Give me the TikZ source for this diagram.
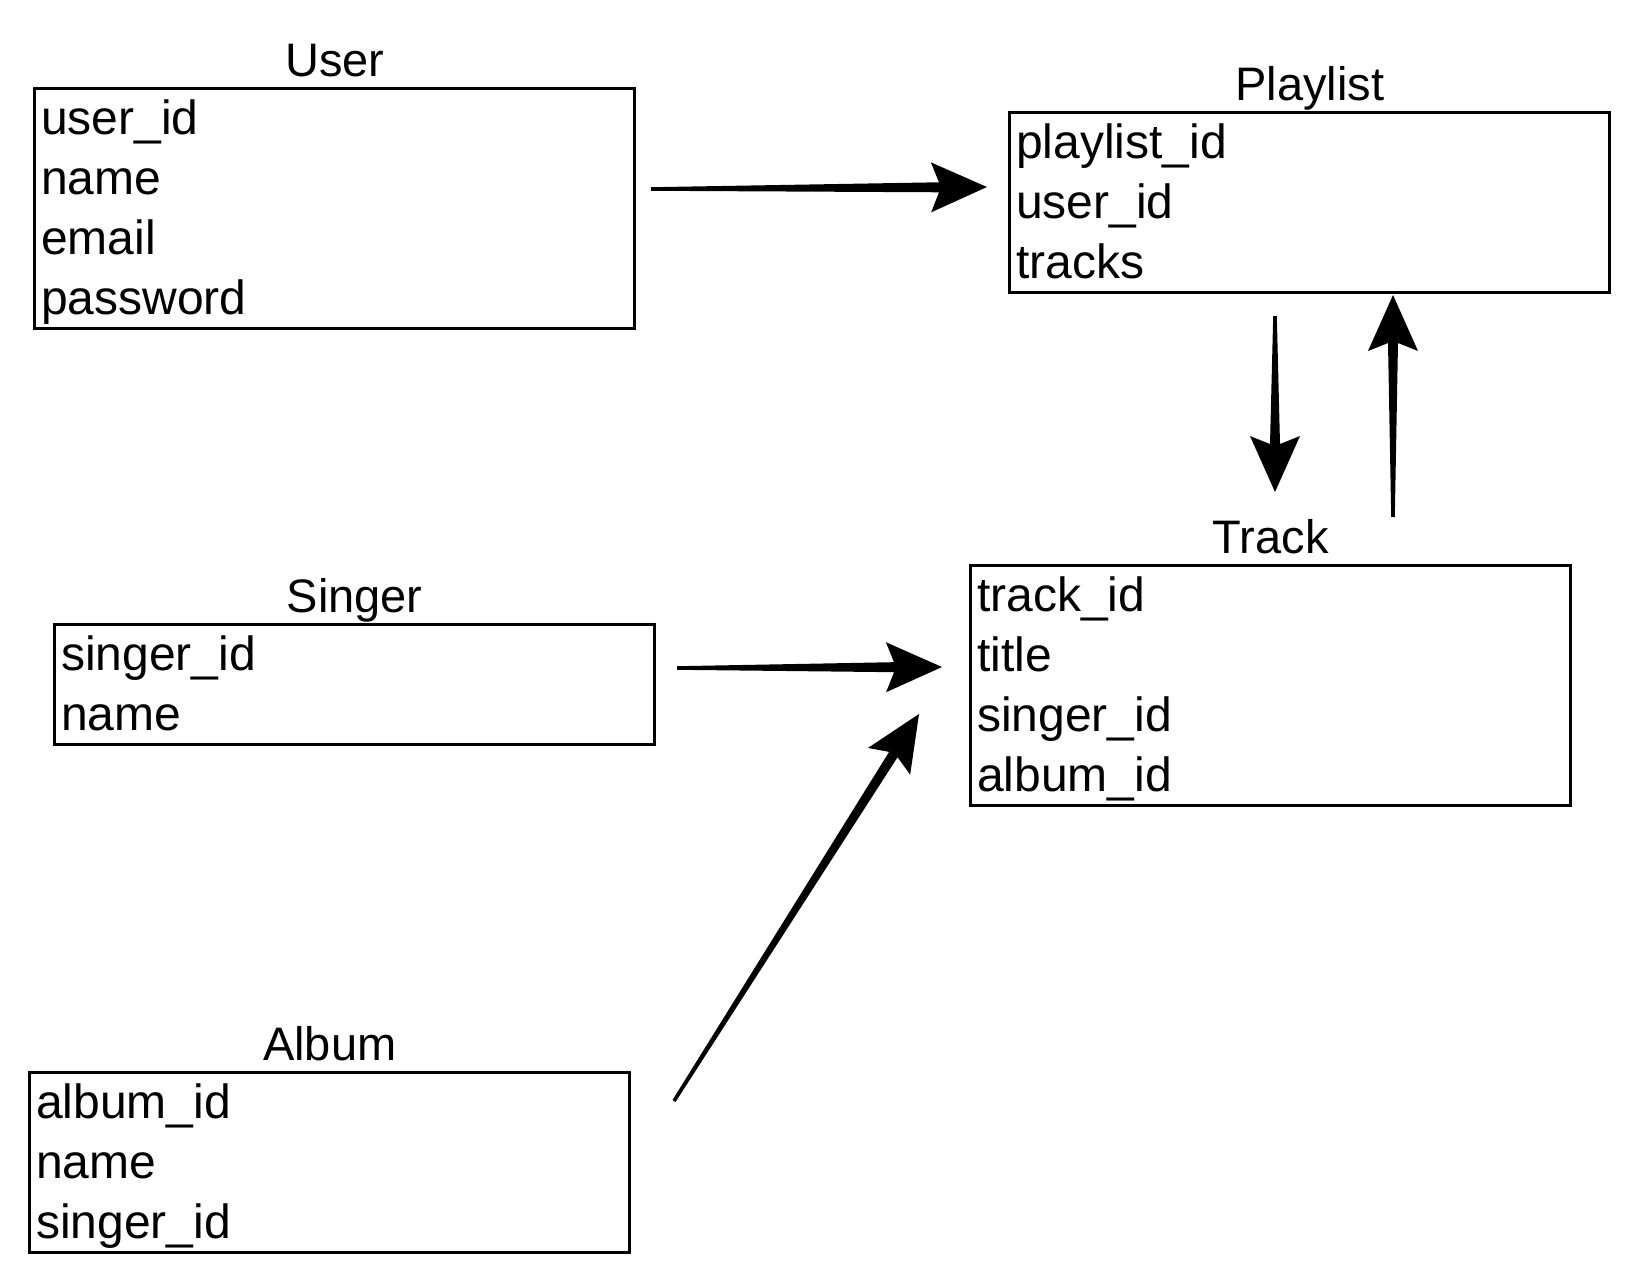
\documentclass[tikz,border=0pt]{standalone}
\usepackage{fontspec}
\setmainfont{Liberation Sans}
\usetikzlibrary{calc}
\tikzset{
  tbl/.style={draw, line width=3.4pt, minimum width=600pt, inner sep=0pt, anchor=north west},
  rowtxt/.style={anchor=base west, inner sep=0pt, font=\fontsize{48}{57}\selectfont},
  ttl/.style={anchor=base, inner sep=0pt, font=\fontsize{47}{56}\selectfont},
  taper/.style={fill=black},
}
\newcommand\ertable[6]{%
  \node[tbl, minimum height=#4*60pt] (#1) at (#2,#3) {};
  \node[ttl] (#1-title) at ($(#1.north)+(0,11pt)$) {#5};
  \foreach \r [count=\i] in {#6} {
    \node[rowtxt] (#1-\i) at ($(#1.north west)+(8pt,{(13-60*\i)*1pt})$) {\r};
  }
}
\newcommand\taparrow[2]{%
  \coordinate (ta-h) at ($(#2)!56pt!(#1)$);
  \coordinate (ta-j) at ($(#2)!48pt!(#1)$);
  \fill[taper] ($(#1)!1.8pt!90:(#2)$) -- ($(ta-j)!5pt!90:(#2)$) -- ($(ta-h)!25pt!90:(#2)$) -- (#2)
    -- ($(ta-h)!25pt!-90:(#2)$) -- ($(ta-j)!5pt!-90:(#2)$) -- ($(#1)!1.8pt!-90:(#2)$) -- cycle;
}
\begin{document}
\begin{tikzpicture}[x=1pt,y=-1pt]
\useasboundingbox[fill=white] (0,0) rectangle (1636,1280);

\ertable{user}{33}{87}{4}{User}{user\_id,name,email,password}
\ertable{playlist}{1008}{111}{3}{Playlist}{playlist\_id,user\_id,tracks}
\ertable{track}{969}{564}{4}{Track}{track\_id,title,singer\_id,album\_id}
\ertable{singer}{53}{623}{2}{Singer}{singer\_id,name}
\ertable{album}{28}{1071}{3}{Album}{album\_id,name,singer\_id}

\coordinate (up-s) at (651,189);
\coordinate (up-t) at (987,187);
\coordinate (pt-s) at (1275,316);
\coordinate (pt-t) at (1275,492);
\coordinate (tp-s) at (1393,517);
\coordinate (tp-t) at (1393,295);
\coordinate (st-s) at (677,668);
\coordinate (st-t) at (942,667);
\coordinate (at-s) at (674,1101);
\coordinate (at-t) at (919,714);

\taparrow{up-s}{up-t}
\taparrow{pt-s}{pt-t}
\taparrow{tp-s}{tp-t}
\taparrow{st-s}{st-t}
\taparrow{at-s}{at-t}
\end{tikzpicture}
\end{document}
